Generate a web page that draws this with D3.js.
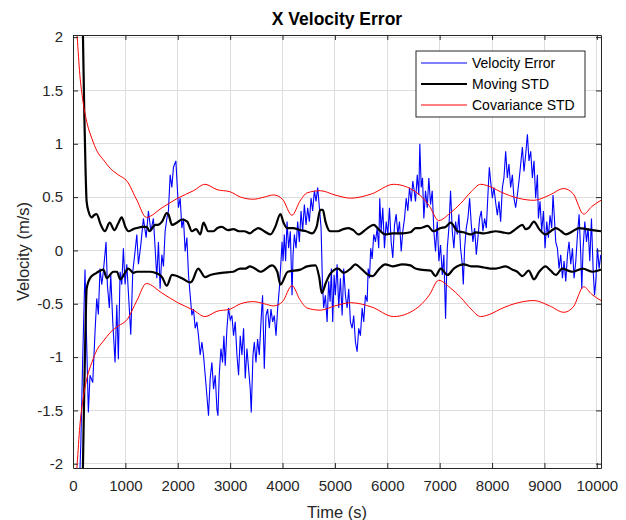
<!DOCTYPE html>
<html>
<head>
<meta charset="utf-8">
<script src="https://cdn.jsdelivr.net/npm/d3@7"></script>
<style>
  body { margin: 0; background: #fff; }
  svg { font-family: "Liberation Sans", Arial, sans-serif; }
</style>
</head>
<body>
<svg id="canvas" width="626" height="520"></svg>
<script>
// values

// velocity error (blue), time in s and value in m/s
var errT = [110, 150, 185, 229, 262, 293, 325, 377, 421, 453, 484, 516, 549, 579, 631, 656, 694, 721, 759, 803,
  836, 866, 899, 931, 962, 994, 1027, 1057, 1103, 1141, 1185, 1218, 1249, 1294, 1344, 1396, 1440, 1486, 1535, 1568,
  1600, 1631, 1663, 1696, 1727, 1759, 1792, 1822, 1855, 1887, 1918, 1964, 1988, 2013, 2046, 2078, 2109, 2141, 2174, 2205,
  2237, 2270, 2300, 2333, 2365, 2396, 2428, 2461, 2491, 2524, 2556, 2587, 2619, 2652, 2683, 2715, 2748, 2767, 2792, 2824,
  2855, 2881, 2906, 2939, 2969, 3002, 3034, 3065, 3097, 3130, 3161, 3193, 3225, 3256, 3289, 3321, 3352, 3384, 3403, 3436,
  3461, 3493, 3524, 3556, 3589, 3619, 3652, 3684, 3715, 3748, 3780, 3811, 3843, 3876, 3906, 3939, 3971, 3991, 4010, 4034,
  4059, 4086, 4117, 4149, 4182, 4201, 4226, 4258, 4289, 4321, 4354, 4384, 4417, 4449, 4480, 4512, 4545, 4575, 4608, 4640,
  4671, 4704, 4736, 4761, 4786, 4818, 4851, 4881, 4908, 4933, 4958, 4985, 5009, 5042, 5073, 5105, 5138, 5168, 5201, 5233,
  5264, 5296, 5329, 5359, 5392, 5424, 5455, 5487, 5520, 5550, 5583, 5616, 5635, 5660, 5684, 5711, 5742, 5774, 5807, 5837,
  5856, 5883, 5914, 5946, 5979, 6010, 6042, 6074, 6105, 6138, 6170, 6201, 6233, 6266, 6296, 6329, 6361, 6392, 6424, 6457,
  6487, 6514, 6539, 6572, 6602, 6621, 6648, 6673, 6698, 6730, 6763, 6793, 6826, 6858, 6889, 6921, 6954, 6985, 7017, 7050,
  7080, 7113, 7145, 7176, 7208, 7241, 7271, 7304, 7336, 7367, 7399, 7432, 7451, 7476, 7508, 7539, 7572, 7604, 7635, 7667,
  7700, 7730, 7763, 7795, 7826, 7858, 7891, 7921, 7948, 7973, 8006, 8036, 8069, 8101, 8132, 8164, 8197, 8227, 8260, 8292,
  8323, 8355, 8388, 8418, 8451, 8483, 8514, 8547, 8579, 8610, 8642, 8675, 8705, 8738, 8770, 8801, 8833, 8866, 8885, 8916,
  8948, 8981, 9012, 9044, 9076, 9107, 9139, 9164, 9191, 9216, 9248, 9279, 9311, 9344, 9375, 9407, 9440, 9470, 9503, 9535,
  9566, 9599, 9631, 9662, 9694, 9713, 9738, 9771, 9803, 9833, 9866, 9898, 9929, 9956, 9981, 10013, 10044, 10076];
var errV = [-2.4, -1.8, -1.02, -0.18, -0.89, -1.52, -1.17, -1.24, -0.76, -0.45, -0.6, -0.17, -0.32, -0.2, 0.08, -0.32, -0.54, -0.23, -0.67, -1.05,
  -0.51, -1.02, -0.2, -0.32, 0.02, -0.32, -0.13, -0.39, -0.79, -0.2, -0.01, 0.15, -0.13, 0.05, 0.3, 0.12, 0.37, 0.18, 0.3, 0.02,
  -0.26, 0.08, -0.36, -0.04, -0.15, 0.18, 0.3, 0.37, 0.71, 0.59, 0.78, 0.84, 0.62, 0.4, 0.49, 0.21, 0.3, -0.01, 0.12, -0.23,
  -0.42, -0.61, -0.55, -0.73, -0.67, -0.8, -0.98, -0.86, -0.98, -1.17, -1.36, -1.55, -1.2, -1.05, -1.3, -1.17, -1.49, -1.55, -1.17, -0.92,
  -1.05, -0.8, -1.08, -0.73, -0.54, -0.65, -0.61, -0.8, -0.67, -0.98, -1.17, -0.8, -0.98, -0.73, -1.2, -0.92, -1.11, -1.3, -1.52, -0.98,
  -0.86, -1.05, -0.83, -0.98, -0.67, -0.42, -1.11, -0.61, -0.55, -0.73, -0.55, -0.67, -0.61, -0.8, -0.55, -0.36, -0.1, 0.08, -0.1, 0.15,
  -0.1, 0.27, 0.02, 0.18, -0.42, -0.04, 0.15, 0.02, 0.27, 0.08, 0.37, 0.18, 0.43, 0.24, 0.4, 0.27, 0.49, 0.37, 0.56, 0.46,
  0.59, 0.4, 0.21, -0.29, -0.54, -0.42, -0.67, -0.29, -0.48, -0.17, -0.67, -0.23, -0.42, -0.13, -0.54, -0.26, -0.61, -0.17, -0.42, -0.54,
  -0.36, -0.67, -0.73, -0.61, -0.86, -0.95, -0.73, -0.8, -0.54, -0.67, -0.42, -0.48, -0.17, -0.26, 0.02, -0.08, 0.15, 0.08, 0.21, 0.02,
  0.49, 0.18, 0.4, 0.02, 0.27, 0.15, 0.4, 0.08, -0.07, 0.24, 0.34, 0.15, 0.27, -0.01, 0.18, 0.3, 0.49, 0.37, 0.59, 0.46,
  0.65, 0.56, 0.46, 0.71, 0.52, 1.0, 0.59, 0.68, 0.3, 0.56, 0.4, 0.68, 0.43, 0.56, 0.18, -0.01, 0.27, -0.1, 0.05, -0.23,
  -0.04, -0.64, 0.02, 0.21, 0.56, 0.18, 0.02, 0.27, 0.15, 0.34, 0.02, -0.13, -0.32, 0.02, 0.21, 0.3, 0.49, 0.24, 0.08, 0.21,
  -0.04, 0.12, 0.3, 0.37, 0.18, 0.3, 0.21, 0.52, 0.78, 0.65, 0.49, 0.59, 0.45, 0.33, 0.46, 0.27, 0.59, 0.68, 0.93, 0.68,
  0.81, 0.59, 0.71, 0.49, 0.4, 0.52, 0.65, 0.81, 0.97, 0.74, 0.9, 1.09, 0.84, 0.93, 0.68, 0.84, 0.49, 0.71, 0.3, 0.46,
  0.18, 0.37, 0.02, 0.27, 0.12, 0.33, 0.21, 0.52, 0.3, 0.08, 0.02, -0.17, -0.04, -0.26, -0.1, -0.29, -0.04, 0.08, -0.13, 0.02,
  -0.26, -0.1, 0.15, 0.34, -0.04, -0.36, 0.02, 0.27, 0.08, 0.21, -0.1, 0.3, -0.17, -0.42, -0.29, 0.02, -0.17, -0.04];

// moving STD (black), upper and lower envelopes
var stdUpT = [180, 215, 240, 260, 300, 357, 400, 450, 530, 610, 700, 790, 860, 930, 1000, 1060, 1150, 1220, 1320, 1410,
  1460, 1570, 1620, 1700, 1790, 1820, 1890, 1980, 2080, 2180, 2270, 2350, 2430, 2490, 2580, 2680, 2760, 2840, 2960, 3060,
  3180, 3270, 3380, 3460, 3540, 3650, 3770, 3860, 3960, 4020, 4085, 4200, 4340, 4450, 4565, 4650, 4720, 4770, 4820, 4910,
  5060, 5160, 5260, 5350, 5450, 5600, 5740, 5850, 5960, 6100, 6290, 6440, 6540, 6630, 6770, 6880, 7020, 7110, 7210, 7340,
  7450, 7590, 7700, 7840, 7950, 8070, 8200, 8320, 8450, 8580, 8640, 8700, 8800, 8900, 9020, 9120, 9220, 9320, 9410, 9540,
  9660, 9800, 9920, 10080];
var stdUpV = [2.3, 1.3, 0.75, 0.46, 0.36, 0.31, 0.33, 0.34, 0.24, 0.18, 0.26, 0.19, 0.25, 0.31, 0.22, 0.18, 0.2, 0.21, 0.22, 0.22,
  0.18, 0.24, 0.24, 0.27, 0.35, 0.34, 0.24, 0.26, 0.29, 0.27, 0.18, 0.2, 0.15, 0.26, 0.18, 0.18, 0.21, 0.22, 0.19, 0.2,
  0.18, 0.18, 0.16, 0.19, 0.21, 0.18, 0.15, 0.22, 0.34, 0.26, 0.21, 0.21, 0.19, 0.18, 0.16, 0.22, 0.38, 0.38, 0.27, 0.18,
  0.18, 0.2, 0.21, 0.19, 0.15, 0.2, 0.24, 0.19, 0.15, 0.16, 0.16, 0.17, 0.21, 0.21, 0.23, 0.18, 0.21, 0.22, 0.26, 0.18,
  0.17, 0.15, 0.17, 0.16, 0.17, 0.18, 0.17, 0.16, 0.2, 0.24, 0.2, 0.21, 0.27, 0.2, 0.15, 0.18, 0.21, 0.18, 0.15, 0.18,
  0.21, 0.2, 0.19, 0.18];
var stdLoT = [180, 215, 240, 260, 325, 450, 580, 645, 770, 840, 900, 1060, 1150, 1220, 1470, 1570, 1620, 1700, 1790, 1890,
  2080, 2240, 2270, 2390, 2520, 2620, 2840, 3060, 3190, 3290, 3380, 3440, 3580, 3800, 3900, 3960, 4100, 4340, 4470, 4630,
  4700, 4750, 4830, 4910, 5060, 5170, 5300, 5390, 5500, 5640, 5720, 5850, 5960, 6100, 6290, 6440, 6540, 6630, 6830, 6920,
  7020, 7150, 7270, 7460, 7600, 7720, 7850, 7970, 8070, 8260, 8390, 8480, 8580, 8700, 8800, 8900, 9020, 9120, 9220, 9340,
  9530, 9730, 9920, 10080];
var stdLoV = [-2.3, -1.3, -0.7, -0.36, -0.26, -0.21, -0.18, -0.26, -0.2, -0.2, -0.27, -0.17, -0.21, -0.2, -0.2, -0.21, -0.22, -0.25, -0.33, -0.23,
  -0.26, -0.3, -0.29, -0.17, -0.25, -0.23, -0.21, -0.2, -0.17, -0.17, -0.15, -0.16, -0.2, -0.14, -0.2, -0.32, -0.2, -0.18, -0.15, -0.14,
  -0.25, -0.4, -0.3, -0.22, -0.17, -0.21, -0.17, -0.13, -0.17, -0.23, -0.24, -0.17, -0.13, -0.15, -0.13, -0.14, -0.17, -0.18, -0.19, -0.24,
  -0.17, -0.23, -0.17, -0.13, -0.15, -0.15, -0.16, -0.17, -0.17, -0.15, -0.18, -0.2, -0.24, -0.19, -0.27, -0.2, -0.15, -0.19, -0.23, -0.17,
  -0.2, -0.17, -0.2, -0.18];

// covariance STD (red), drawn as + and -
var covT = [30, 80, 130, 190, 270, 360, 460, 580, 710, 860, 1030, 1220, 1400, 1700, 2000, 2300, 2520, 2750, 3000, 3200,
  3440, 3650, 3830, 4000, 4180, 4330, 4470, 4720, 5000, 5300, 5700, 6120, 6540, 6800, 6980, 7200, 7400, 7600, 7780, 8000,
  8160, 8500, 8800, 9100, 9370, 9550, 9750, 9900, 10080];
var covV = [2.3, 2.0, 1.65, 1.4, 1.19, 1.05, 0.93, 0.85, 0.77, 0.71, 0.65, 0.47, 0.31, 0.4, 0.49, 0.56, 0.62, 0.57, 0.55, 0.5,
  0.48, 0.5, 0.52, 0.48, 0.33, 0.46, 0.54, 0.56, 0.52, 0.49, 0.53, 0.62, 0.55, 0.42, 0.28, 0.35, 0.44, 0.55, 0.62, 0.59,
  0.55, 0.49, 0.47, 0.52, 0.58, 0.53, 0.34, 0.41, 0.47];

var xTicks = [0, 1000, 2000, 3000, 4000, 5000, 6000, 7000, 8000, 9000, 10000];
var yTicks = [-2, -1.5, -1, -0.5, 0, 0.5, 1, 1.5, 2];
var legendNames = ["Velocity Error", "Moving STD", "Covariance STD"];

var svg = d3.select("#canvas");
var pLeft = 73, pTop = 35, pRight = 601, pBottom = 468;
var axisCol = "#262626";

var x = d3.scaleLinear().domain([0, 10080]).range([pLeft, pRight]);
var y = d3.scaleLinear().domain([-2.04, 2.02]).range([pBottom, pTop]);

// grid
svg.append("g").selectAll("line").data(xTicks).enter().append("line")
  .attr("x1", function(d) { return x(d); }).attr("x2", function(d) { return x(d); })
  .attr("y1", pTop).attr("y2", pBottom)
  .attr("stroke", "#dedede").attr("stroke-width", 1).attr("shape-rendering", "crispEdges");
svg.append("g").selectAll("line").data(yTicks).enter().append("line")
  .attr("y1", function(d) { return y(d); }).attr("y2", function(d) { return y(d); })
  .attr("x1", pLeft).attr("x2", pRight)
  .attr("stroke", "#dedede").attr("stroke-width", 1).attr("shape-rendering", "crispEdges");

svg.append("clipPath").attr("id", "clip").append("rect")
  .attr("x", pLeft).attr("y", pTop).attr("width", pRight - pLeft).attr("height", pBottom - pTop);

var plot = svg.append("g").attr("clip-path", "url(#clip)");

function pairs(ts, vs, sign) {
  return ts.map(function(t, i) { return [t, sign * vs[i]]; });
}

var straight = d3.line().x(function(d) { return x(d[0]); }).y(function(d) { return y(d[1]); });
var smooth = d3.line().x(function(d) { return x(d[0]); }).y(function(d) { return y(d[1]); })
  .curve(d3.curveMonotoneX);

plot.append("path").attr("d", straight(pairs(errT, errV, 1)))
  .attr("fill", "none").attr("stroke", "#0000ff").attr("stroke-width", 1.1);

plot.append("path").attr("d", smooth(pairs(stdUpT, stdUpV, 1)))
  .attr("fill", "none").attr("stroke", "#000").attr("stroke-width", 2.2);
plot.append("path").attr("d", smooth(pairs(stdLoT, stdLoV, 1)))
  .attr("fill", "none").attr("stroke", "#000").attr("stroke-width", 2.2);

plot.append("path").attr("d", smooth(pairs(covT, covV, 1)))
  .attr("fill", "none").attr("stroke", "#ff0000").attr("stroke-width", 1);
plot.append("path").attr("d", smooth(pairs(covT, covV, -1)))
  .attr("fill", "none").attr("stroke", "#ff0000").attr("stroke-width", 1);

// axes, ticks inward on all four sides
var xAx = svg.append("g").attr("transform", "translate(0," + pBottom + ")")
  .call(d3.axisBottom(x).tickValues(xTicks).tickSizeInner(-5).tickSizeOuter(0).tickPadding(12)
    .tickFormat(d3.format("d")));
var yAx = svg.append("g").attr("transform", "translate(" + pLeft + ",0)")
  .call(d3.axisLeft(y).tickValues(yTicks).tickSizeInner(-5).tickSizeOuter(0).tickPadding(10)
    .tickFormat(function(d) { return String(d); }));
var xTop = svg.append("g").attr("transform", "translate(0," + pTop + ")")
  .call(d3.axisTop(x).tickValues(xTicks).tickSizeInner(-5).tickSizeOuter(0).tickFormat(""));
var yRight = svg.append("g").attr("transform", "translate(" + pRight + ",0)")
  .call(d3.axisRight(y).tickValues(yTicks).tickSizeInner(-5).tickSizeOuter(0).tickFormat(""));

[xAx, yAx, xTop, yRight].forEach(function(g) {
  g.select(".domain").attr("stroke", axisCol);
  g.selectAll(".tick line").attr("stroke", axisCol);
  g.selectAll("text").attr("fill", axisCol).style("font-size", "15px")
    .style("font-family", "'Liberation Sans', Arial, sans-serif");
});

// labels
svg.append("text").attr("x", (pLeft + pRight) / 2).attr("y", 25)
  .attr("text-anchor", "middle").style("font-size", "17.5px").style("font-weight", "bold")
  .attr("fill", "#000").text("X Velocity Error");
svg.append("text").attr("x", (pLeft + pRight) / 2).attr("y", 518)
  .attr("text-anchor", "middle").style("font-size", "16.5px").attr("fill", axisCol).text("Time (s)");
svg.append("text").attr("transform", "translate(29," + ((pTop + pBottom) / 2) + ") rotate(-90)")
  .attr("text-anchor", "middle").style("font-size", "16.5px").attr("fill", axisCol).text("Velocity (m/s)");

// legend
var lg = svg.append("g").attr("transform", "translate(416,51)");
lg.append("rect").attr("width", 169).attr("height", 66)
  .attr("fill", "#fff").attr("stroke", axisCol).attr("stroke-width", 1);
var lgCols = ["#0000ff", "#000", "#ff0000"];
var lgW = [1, 2.2, 1];
legendNames.forEach(function(name, i) {
  var cy = 12 + i * 21;
  lg.append("line").attr("x1", 5).attr("x2", 51).attr("y1", cy).attr("y2", cy)
    .attr("stroke", lgCols[i]).attr("stroke-width", lgW[i]);
  lg.append("text").attr("x", 56).attr("y", cy + 5).style("font-size", "14px")
    .attr("fill", "#000").text(name);
});
</script>
</body>
</html>
